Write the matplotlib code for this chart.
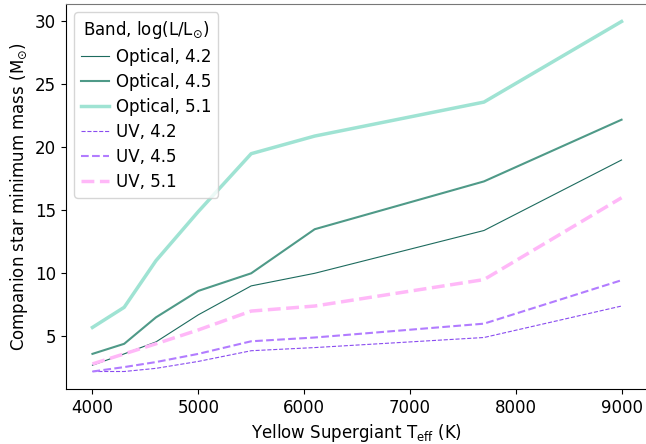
import numpy as np
import matplotlib
matplotlib.use("Agg")
import matplotlib.pyplot as plt

DPI = 100
FIGSIZE = (6.46, 4.44)
FONTSIZE = 12

# Yellow supergiant effective temperatures (K)
teff = [4000, 4300, 4600, 5000, 5500, 6100, 7700, 9000]

# companion star minimum mass (Msun)
opt_42 = [2.7, 3.6, 4.55, 6.7, 9.0, 10.0, 13.4, 19.0]
opt_45 = [3.6, 4.4, 6.5, 8.6, 10.0, 13.5, 17.3, 22.2]
opt_51 = [5.7, 7.3, 11.0, 14.9, 19.5, 20.9, 23.6, 30.0]
uv_42 = [2.2, 2.2, 2.45, 3.0, 3.85, 4.1, 4.9, 7.4]
uv_45 = [2.2, 2.55, 2.95, 3.6, 4.6, 4.9, 6.0, 9.45]
uv_51 = [2.8, 3.6, 4.4, 5.5, 7.0, 7.4, 9.5, 16.0]

labels = ["Optical, 4.2", "Optical, 4.5", "Optical, 5.1",
          "UV, 4.2", "UV, 4.5", "UV, 5.1"]

plt.rcParams["font.size"] = FONTSIZE

fig = plt.figure(figsize=FIGSIZE, dpi=DPI)
ax = fig.add_axes([66 / 646, 55 / 444, 582 / 646, 385 / 444])

ax.plot(teff, opt_42, c="#1d6b5e", lw=0.8, label=labels[0])
ax.plot(teff, opt_45, c="#4f9a88", lw=1.5, label=labels[1])
ax.plot(teff, opt_51, c="#9fe3d3", lw=2.5, label=labels[2])
ax.plot(teff, uv_42, c="#8a4cf0", lw=0.8, ls="--", label=labels[3])
ax.plot(teff, uv_45, c="#b27cff", lw=1.5, ls="--", label=labels[4])
ax.plot(teff, uv_51, c="#ffb8f8", lw=2.5, ls="--", label=labels[5])

ax.spines["top"].set_color("#777777")
ax.set_xticks([4000, 5000, 6000, 7000, 8000, 9000])
ax.set_yticks([5, 10, 15, 20, 25, 30])
ax.set_xlabel(r"Yellow Supergiant T$_{\rm eff}$ (K)", fontsize=FONTSIZE)
ax.set_ylabel(r"Companion star minimum mass (M$_{\odot}$)", fontsize=FONTSIZE)
ax.legend(title=r"Band, log(L/L$_{\odot}$)", loc="upper left",
          fontsize=FONTSIZE, title_fontsize=FONTSIZE,
          handlelength=1.7, handletextpad=0.4, labelspacing=0.42)

plt.savefig("out.png", dpi=DPI)
